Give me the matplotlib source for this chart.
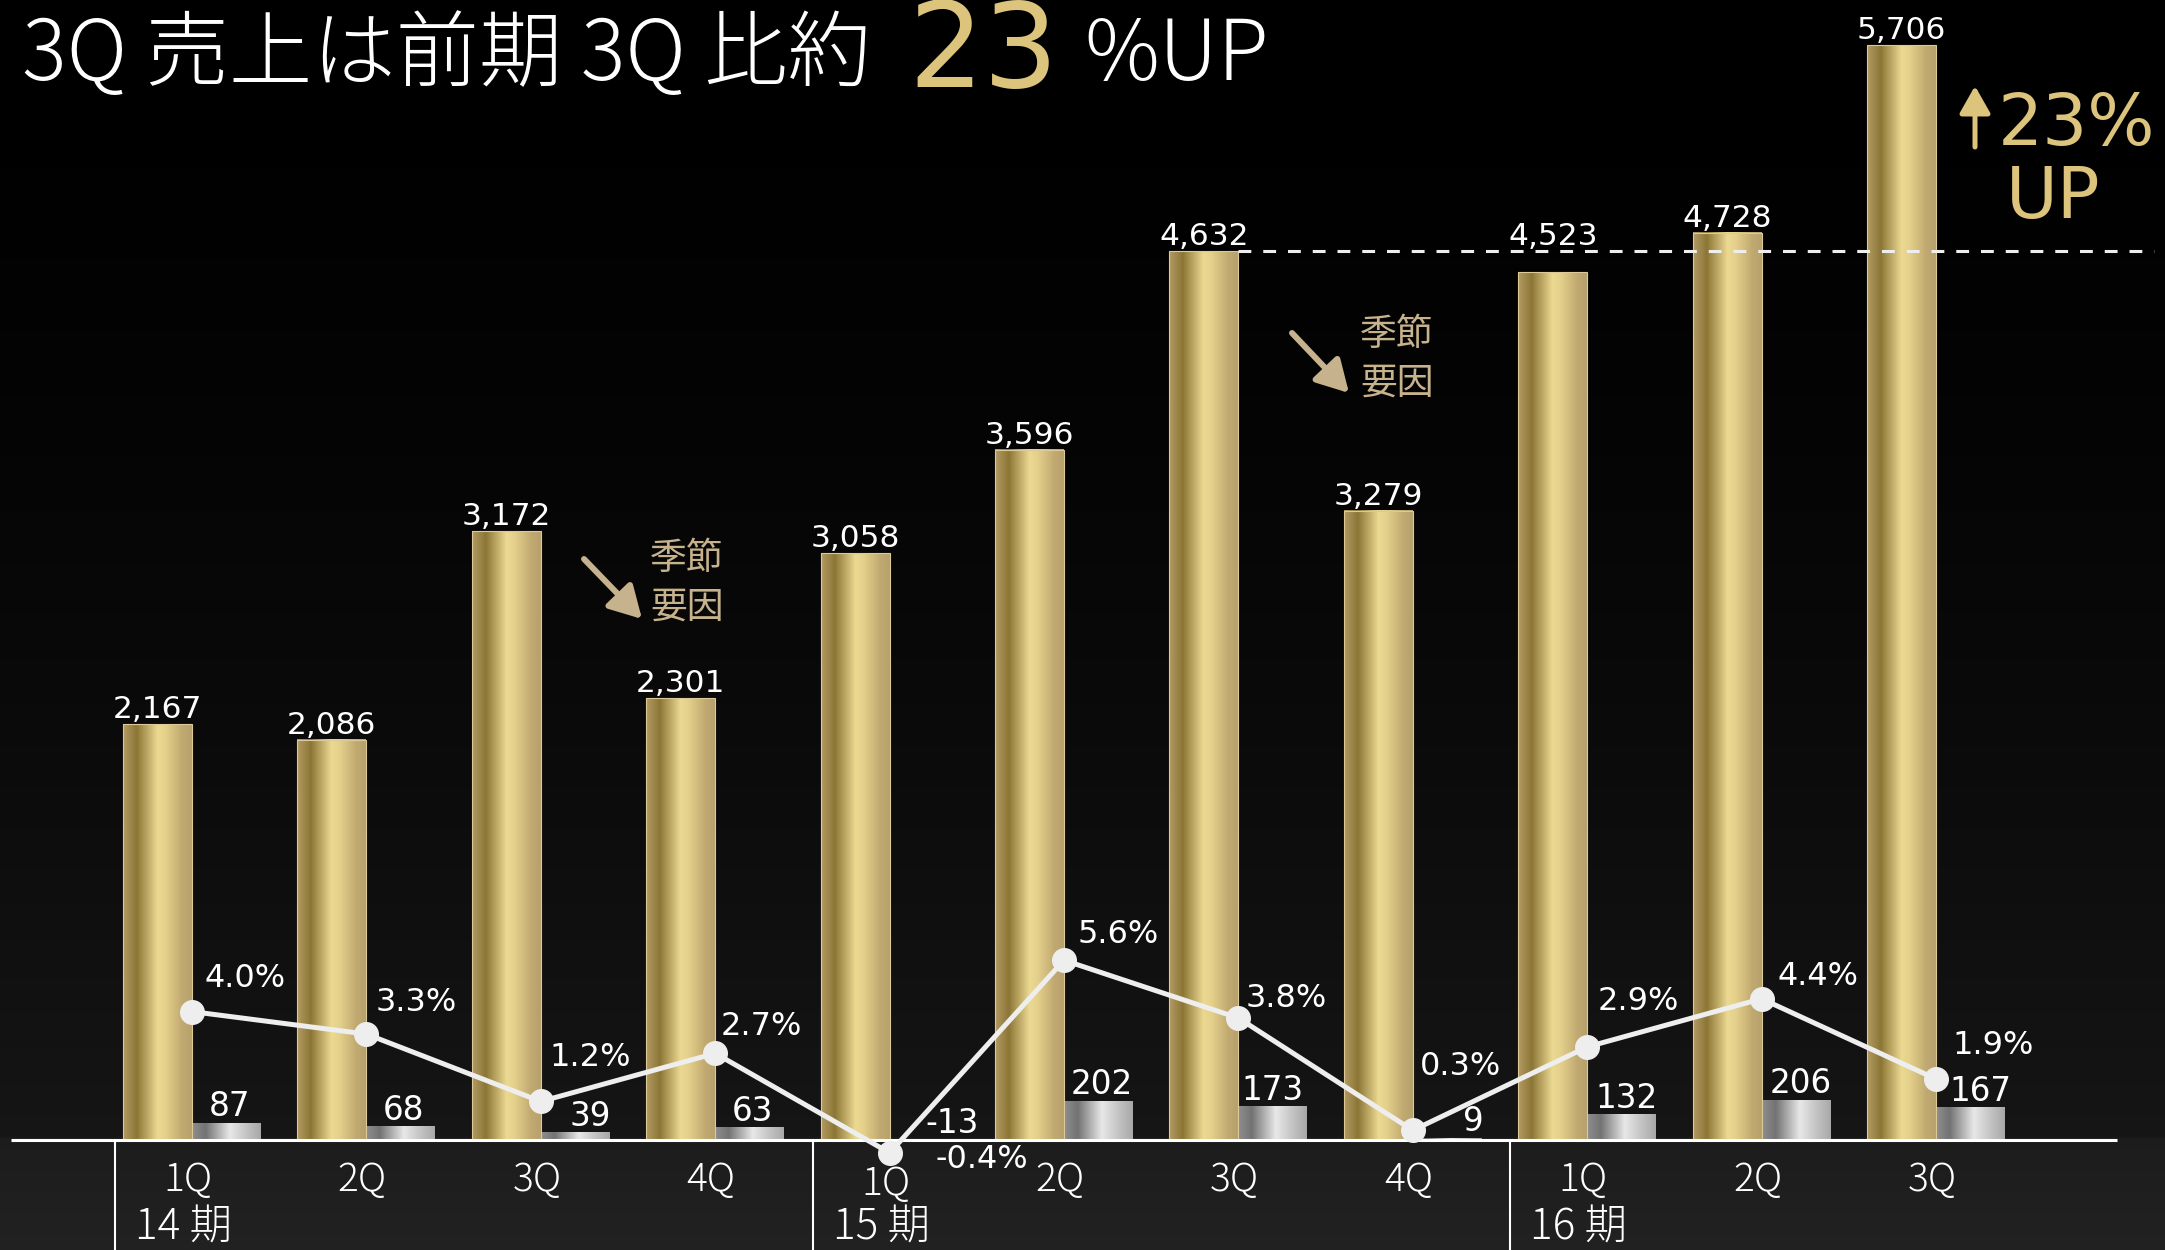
import numpy as np
import matplotlib
matplotlib.use("Agg")
import matplotlib.pyplot as plt
from matplotlib.colors import to_rgb
from matplotlib.patches import FancyArrowPatch
import matplotlib.transforms as mtransforms

# ---- data -------------------------------------------------------------
quarters = ["1Q", "2Q", "3Q", "4Q", "1Q", "2Q", "3Q", "4Q", "1Q", "2Q", "3Q"]
periods = ["14 期", "15 期", "16 期"]
period_start = [0, 4, 8]
sales = [2167, 2086, 3172, 2301, 3058, 3596, 4632, 3279, 4523, 4728, 5706]
op_profit = [87, 68, 39, 63, -13, 202, 173, 9, 132, 206, 167]
op_margin = [4.0, 3.3, 1.2, 2.7, -0.4, 5.6, 3.8, 0.3, 2.9, 4.4, 1.9]
reference_idx = 6          # 15期 3Q, the comparison base
growth_pct = 23

# ---- layout (pixels) ---------------------------------------------------
W, H, DPI = 2165, 1250, 100
PT = 72 / DPI                     # points per pixel
BASE = 1140                       # baseline, px from top
X0, STEP = 192, 174.4             # first group centre, group pitch
K_SALES = 0.1919                  # px per sales unit
K_MARGIN = 32.1                   # px per margin percent
BAR_W = 69 / STEP

# label offsets in px (dx right, dy up)
margin_off = [(13, 25), (9, 23), (9, 35), (5, 18), (46, -15), (13, 17),
              (7, 11), (7, 55), (10, 37), (16, 14), (16, 25)]
profit_dx = [3, 3, 15, 3, 28, 3, 0, 26, 5, 5, 10]

NUM_FONT = ["DejaVu Sans"]
JP_FONT = ["Noto Sans CJK JP", "DejaVu Sans"]
GOLD_TXT = "#dcc47c"
TAN = "#c6b28c"

fig = plt.figure(figsize=(W / DPI, H / DPI), dpi=DPI, facecolor="black")
ax = fig.add_axes([0, 0, 1, 1])
ax.set_axis_off()

xlim = (-X0 / STEP, (W - X0) / STEP)
ylim = (-(H - BASE) / K_SALES, BASE / K_SALES)


def gradient(stops, n=256):
    pos = [p for p, _ in stops]
    cols = np.array([to_rgb(c) for _, c in stops])
    t = np.linspace(0, 1, n)
    return np.stack([np.interp(t, pos, cols[:, i]) for i in range(3)], axis=-1)


# background: black fading to dark grey at the baseline, flat grey below
rows = np.linspace(0, H, 400)
lvl = np.where(rows < BASE, 0.085 * (rows / BASE) ** 1.6,
               0.112 + 0.02 * (rows - BASE) / (H - BASE))
bg = np.repeat(lvl[:, None, None], 3, axis=2)
ax.imshow(bg, extent=[xlim[0], xlim[1], ylim[0], ylim[1]], aspect="auto",
          origin="upper", zorder=0, interpolation="bilinear")

gold = gradient([(0, "#b39b63"), (0.2, "#8c7636"), (0.5, "#ebd891"),
                 (0.62, "#e4d08b"), (0.85, "#c2ab72"), (1, "#b6a06c")])[None]
silver = gradient([(0, "#8e8e8e"), (0.2, "#737373"), (0.55, "#e8e8e8"),
                   (0.8, "#c2c2c2"), (1, "#a8a8a8")])[None]

x = np.arange(len(sales))
gold_bars = ax.bar(x - BAR_W / 2, sales, width=BAR_W, facecolor="none",
                   edgecolor="#dccb98", linewidth=0.8, zorder=3)
gray_bars = ax.bar(x + BAR_W / 2, op_profit, width=BAR_W, facecolor="none",
                   edgecolor="none", zorder=3)

for bars, img in ((gold_bars, gold), (gray_bars, silver)):
    for r in bars:
        x0, w = r.get_x(), r.get_width()
        y0, y1 = sorted((r.get_y(), r.get_y() + r.get_height()))
        ax.imshow(img, extent=[x0, x0 + w, y0, y1], aspect="auto",
                  interpolation="bilinear", zorder=2)

ref = sales[reference_idx]

# value labels; a label just under the reference line sits on top of it
for r, v in zip(gold_bars, sales):
    anchor = ref if 0 < ref - v < 250 else v
    ax.annotate(f"{v:,}", xy=(r.get_x() + r.get_width() / 2, anchor),
                xytext=(0, 6 * PT), textcoords="offset points",
                ha="center", va="baseline", fontsize=22.5, color="white",
                family=NUM_FONT, zorder=6)
for r, v, dx in zip(gray_bars, op_profit, profit_dx):
    ax.annotate(f"{v:,}", xy=(r.get_x() + r.get_width() / 2, max(v, 0)),
                xytext=(dx * PT, 7 * PT), textcoords="offset points",
                ha="center", va="baseline", fontsize=23.5, color="white",
                family=NUM_FONT, zorder=6)

# baseline and period dividers
ax.plot([(11 - X0) / STEP, (2117 - X0) / STEP], [0, 0], color="white",
        lw=2.2, solid_capstyle="butt", zorder=4)
for s in period_start:
    ax.plot([s - 0.44, s - 0.44], [-2 / K_SALES, ylim[0]], color="white",
            lw=1.5, zorder=4)

# dashed reference level at the comparison quarter
ax.plot([reference_idx, (2154 - X0) / STEP], [ref, ref], color="#eeeeee",
        lw=2.2, linestyle=(0, (4.2, 3.9)), zorder=5)

ax.set_xlim(*xlim)
ax.set_ylim(*ylim)

# operating margin line
ax2 = ax.twinx()
ax2.set_axis_off()
ax2.set_ylim(-(H - BASE) / K_MARGIN, BASE / K_MARGIN)
ax2.plot(x, op_margin, color="#eeeeee", lw=3.6, marker="o", ms=17,
         mfc="#eeeeee", mec="#eeeeee", zorder=5)
for i, (m, (dx, dy)) in enumerate(zip(op_margin, margin_off)):
    ax2.annotate(f"{m:.1f}%", xy=(i, m), xytext=(dx * PT, dy * PT),
                 textcoords="offset points", ha="left", va="baseline",
                 fontsize=23, color="white", family=NUM_FONT, zorder=6)
ax2.set_xlim(*xlim)

# quarter / period labels
blend = mtransforms.blended_transform_factory(ax.transData, ax.transAxes)
for i, q in enumerate(quarters):
    drop = 4 if op_margin[i] < 0 else 0
    ax.text(i - 4 / STEP, 1 - (1191 + drop) / H, q, transform=blend,
            ha="center", va="baseline", fontsize=28, color="white",
            family=JP_FONT, weight="light")
for s, p in zip(period_start, periods):
    ax.text(s - 57 / STEP, 1 - 1240 / H, p, transform=blend, ha="left",
            va="baseline", fontsize=30.5, color="white", family=JP_FONT,
            weight="light")

# seasonal notes
note_pos = [((650, 541), (584, 559), (642, 619)),
            ((1360, 317), (1292, 333), (1349, 393))]
for (tx, ty), (sx, sy), (ex, ey) in note_pos:
    fig.text(tx / W, 1 - (ty - 2) / H, "季節\n要因", ha="left", va="top",
             fontsize=26.5, color=TAN, family=JP_FONT, linespacing=1.32)
    fig.add_artist(FancyArrowPatch(
        (sx / W, 1 - sy / H), (ex / W, 1 - ey / H),
        transform=fig.transFigure,
        arrowstyle="-|>,head_length=1.6,head_width=0.9",
        mutation_scale=12, lw=4.3, color=TAN, shrinkA=0, shrinkB=0))

# growth callout
fig.add_artist(FancyArrowPatch(
    (1975 / W, 1 - 147 / H), (1975 / W, 1 - 86 / H), transform=fig.transFigure,
    arrowstyle="-|>,head_length=1.5,head_width=0.85", mutation_scale=11,
    lw=3.6, color=GOLD_TXT, shrinkA=0, shrinkB=0))
fig.text(1998 / W, 1 - 145 / H, f"{growth_pct}%", ha="left", va="baseline",
         fontsize=51, color=GOLD_TXT, family=NUM_FONT)
fig.text(2006 / W, 1 - 218 / H, "UP", ha="left", va="baseline",
         fontsize=51, color=GOLD_TXT, family=NUM_FONT)

# headline
fig.text(22 / W, 1 - 80 / H, "3Q 売上は前期 3Q 比約", ha="left", va="baseline",
         fontsize=60, color="white", family=JP_FONT, weight="light")
fig.text(908 / W, 1 - 87 / H, f"{growth_pct}", ha="left", va="baseline",
         fontsize=85, color=GOLD_TXT, family=NUM_FONT)
fig.text(1084 / W, 1 - 80 / H, "%UP", ha="left", va="baseline",
         fontsize=60, color="white", family=JP_FONT, weight="light")

fig.savefig("out.png", dpi=DPI, facecolor="black")
